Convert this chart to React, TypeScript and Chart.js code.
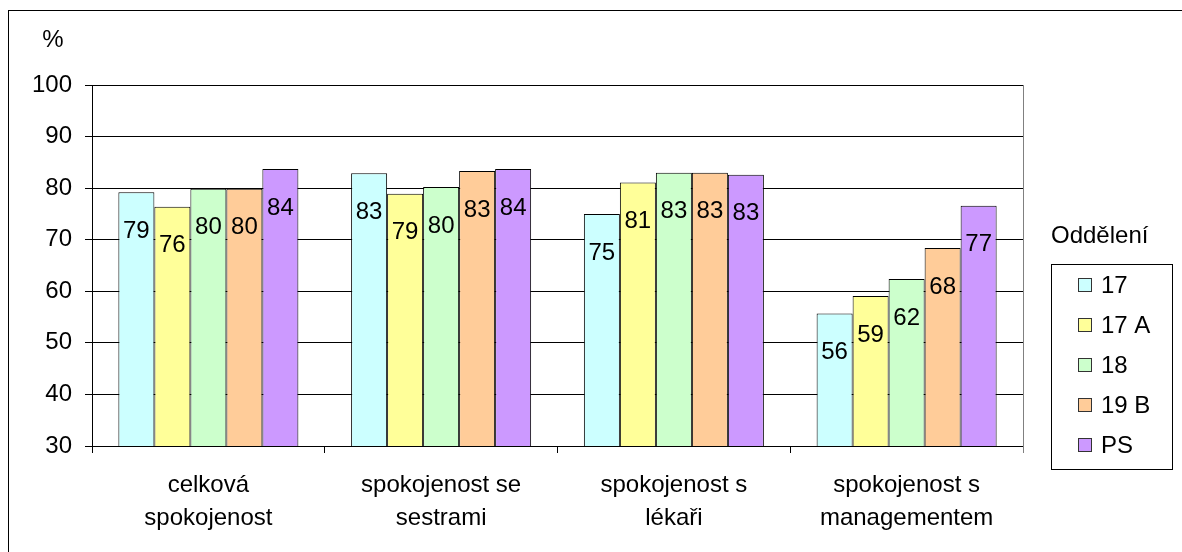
import React, { useEffect, useRef } from "react";
import { Chart, registerables } from "chart.js";

Chart.register(...registerables);

const categories: string[][] = [
  ["celková", "spokojenost"],
  ["spokojenost se", "sestrami"],
  ["spokojenost s", "lékaři"],
  ["spokojenost s", "managementem"],
];
const seriesNames = ["17", "17 A", "18", "19 B", "PS"];
const s17 = [79.2, 82.9, 75.0, 55.7];
const s17A = [76.4, 78.9, 81.1, 59.1];
const s18 = [79.9, 80.2, 83.0, 62.4];
const s19B = [79.9, 83.3, 83.0, 68.4];
const sPS = [83.7, 83.7, 82.6, 76.6];
const yTicks = [30, 40, 50, 60, 70, 80, 90, 100];
const yUnit = "%";
const legendTitle = "Oddělení";

const colors = ["#CCFFFF", "#FFFF99", "#CCFFCC", "#FFCC99", "#CC99FF"];
const FONT = '"Liberation Sans", Arial, sans-serif';

export default function App() {
  const ref = useRef<HTMLCanvasElement | null>(null);
  useEffect(() => {
    const canvas = ref.current!;
    const values = [s17, s17A, s18, s19B, sPS];
    const decor = {
      id: "decor",
      afterDraw(chart: any) {
        const ctx = chart.ctx;
        const ca = chart.chartArea;
        ctx.save();
        // outer frame
        ctx.strokeStyle = "#000";
        ctx.lineWidth = 1;
        ctx.strokeRect(8.5, 10.5, 1300, 700);
        // right plot border
        ctx.strokeStyle = "#808080";
        ctx.beginPath();
        ctx.moveTo(Math.round(ca.right) + 0.5, ca.top);
        ctx.lineTo(Math.round(ca.right) + 0.5, ca.bottom + 7);
        ctx.stroke();
        // unit
        ctx.fillStyle = "#000";
        ctx.font = `24px ${FONT}`;
        ctx.textAlign = "center";
        ctx.textBaseline = "middle";
        ctx.fillText(yUnit, 53, 40);
        // legend
        ctx.textAlign = "left";
        ctx.fillText(legendTitle, 1051, 236);
        ctx.strokeStyle = "#000";
        ctx.strokeRect(1051.5, 264.5, 121, 205);
        chart.data.datasets.forEach((ds: any, i: number) => {
          const cy = 285 + i * 40;
          ctx.fillStyle = ds.backgroundColor;
          ctx.fillRect(1078, cy - 7, 13, 13);
          ctx.strokeStyle = "#333";
          ctx.strokeRect(1078.5, cy - 6.5, 13, 13);
          ctx.fillStyle = "#000";
          ctx.fillText(ds.label, 1101, cy + 1);
        });
        ctx.restore();
      },
      afterDatasetsDraw(chart: any) {
        const ctx = chart.ctx;
        ctx.save();
        ctx.fillStyle = "#000";
        ctx.font = `24px ${FONT}`;
        ctx.textAlign = "center";
        ctx.textBaseline = "middle";
        chart.data.datasets.forEach((ds: any, i: number) => {
          const meta = chart.getDatasetMeta(i);
          meta.data.forEach((bar: any, j: number) => {
            ctx.fillText(String(Math.round(ds.data[j])), bar.x, bar.y + 39);
          });
        });
        ctx.restore();
      },
    };
    const chart = new Chart(canvas, {
      type: "bar",
      data: {
        labels: categories,
        datasets: seriesNames.map((name, i) => ({
          label: name,
          data: values[i],
          backgroundColor: colors[i],
          borderColor: "#000",
          borderWidth: 1,
          borderSkipped: false,
          barPercentage: 1,
          categoryPercentage: 0.7734,
        })),
      },
      options: {
        responsive: false,
        animation: false,
        layout: { padding: { left: 0, top: 85, right: 159, bottom: 0 } },
        plugins: { legend: { display: false }, tooltip: { enabled: false } },
        scales: {
          x: {
            offset: true,
            grid: {
              offset: true,
              drawOnChartArea: false,
              drawTicks: true,
              tickLength: 7,
              color: "#000",
            },
            border: { color: "#000", width: 1 },
            ticks: {
              color: "#000",
              padding: 15.5,
              maxRotation: 0,
              autoSkip: false,
              font: { family: FONT, size: 24, lineHeight: 1.375 },
            },
            afterFit(scale: any) {
              scale.height = 106;
            },
          },
          y: {
            min: 30,
            max: 100,
            afterBuildTicks(scale: any) {
              scale.ticks = yTicks.map((v) => ({ value: v }));
            },
            grid: { color: "#000", tickLength: 7, drawTicks: true },
            border: { color: "#000", width: 1 },
            ticks: {
              color: "#000",
              padding: 13,
              font: { family: FONT, size: 24 },
            },
            afterFit(scale: any) {
              scale.width = 92;
            },
          },
        },
      },
      plugins: [decor],
    });
    return () => chart.destroy();
  }, []);
  return (
    <div style={{ position: "fixed", left: 0, top: 0, width: 1182, height: 552, background: "#fff" }}>
      <canvas ref={ref} width={1182} height={552} style={{ display: "block" }} />
    </div>
  );
}
